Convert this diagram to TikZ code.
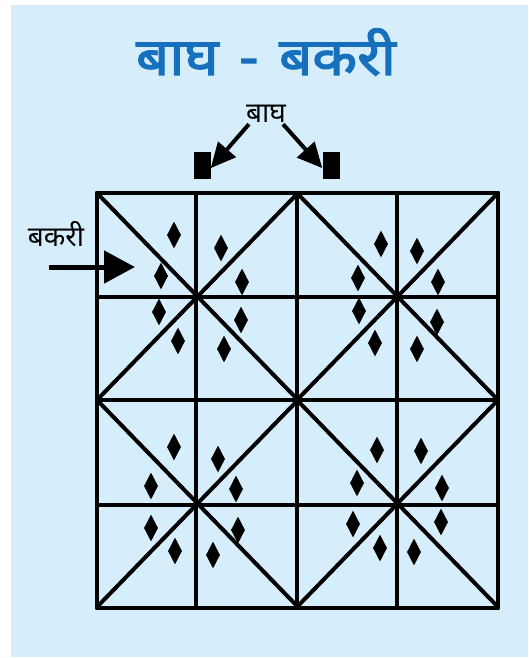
\documentclass[tikz,border=0pt]{standalone}
\usepackage{fontspec}
\usepackage{xcolor}
\usetikzlibrary{arrows.meta,shapes.geometric}
\newfontfamily\devfont[Script=Devanagari]{Noto Sans}
\newfontfamily\devbold[Script=Devanagari,FakeBold=2.5,FakeStretch=1.12]{Noto Sans}
\definecolor{bgblue}{RGB}{214,238,251}
\definecolor{titleblue}{RGB}{22,112,190}

\begin{document}
\begin{tikzpicture}[x=1pt, y=-1pt,
    gridline/.style={line width=4pt, line cap=round},
    goat/.style={diamond, fill=black, inner sep=0pt, aspect=0.5,
                 minimum width=14pt, minimum height=27pt},
    tigerbox/.style={fill=black, inner sep=0pt, minimum width=17pt, minimum height=27pt},
    bigarrow/.style={line width=4pt, -{Triangle[length=25pt, width=23pt]}}]
    \useasboundingbox (0,0) rectangle (528,658);
    \fill[bgblue] (11,5) rectangle (528,657);

    % title and labels
    \node[anchor=base] (title) at (266,75) {\devbold\fontsize{52}{56}\selectfont\color{titleblue}बाघ\hspace{0.4em}-\hspace{0.4em}बकरी};
    \node[anchor=base, inner sep=1pt] (baghlbl) at (266,123) {\devfont\fontsize{28}{30}\selectfont बाघ};
    \node[anchor=base] (bakrilbl) at (56,246) {\devfont\fontsize{28}{30}\selectfont बकरी};

    % tigers
    \node[tigerbox] (tigerL) at (202,165) {};
    \node[tigerbox] (tigerR) at (331,165) {};
    \draw[bigarrow] ([xshift=4pt]baghlbl.south west) -- (tigerL.-20);
    \draw[bigarrow] ([xshift=-4pt]baghlbl.south east) -- (tigerR.200);

    % board
    \foreach \x in {97,196,297,397,498}
        \draw[gridline] (\x,193) -- (\x,608);
    \foreach \y in {193,297,400,505,608}
        \draw[gridline] (97,\y) -- (498,\y);
    \foreach \x/\y in {97/193,297/193,97/400,297/400} {
        \draw[gridline] (\x,\y) -- ++(201,207);
        \draw[gridline] (\x,\y) ++(201,0) -- ++(-201,207);
    }

    % goat entry
    \coordinate (goatfrom) at (49,267);
    \coordinate (goatto) at (135,267);
    \draw[line width=5pt, -{Triangle[length=31pt, width=32pt]}] (goatfrom) -- (goatto);

    % goats
    \foreach \x/\y [count=\i] in {174/235,161/276,221/248,242/282,159/312,178/341,241/320,224/349,
        381/244,358/278,417/251,438/282,359/311,375/343,437/322,417/349,
        174/447,151/486,218/459,236/489,151/528,175/551,238/530,213/555,
        377/450,357/483,421/451,442/488,353/524,380/548,441/522,414/552}
        \node[goat] (g\i) at (\x,\y) {};
\end{tikzpicture}
\end{document}
